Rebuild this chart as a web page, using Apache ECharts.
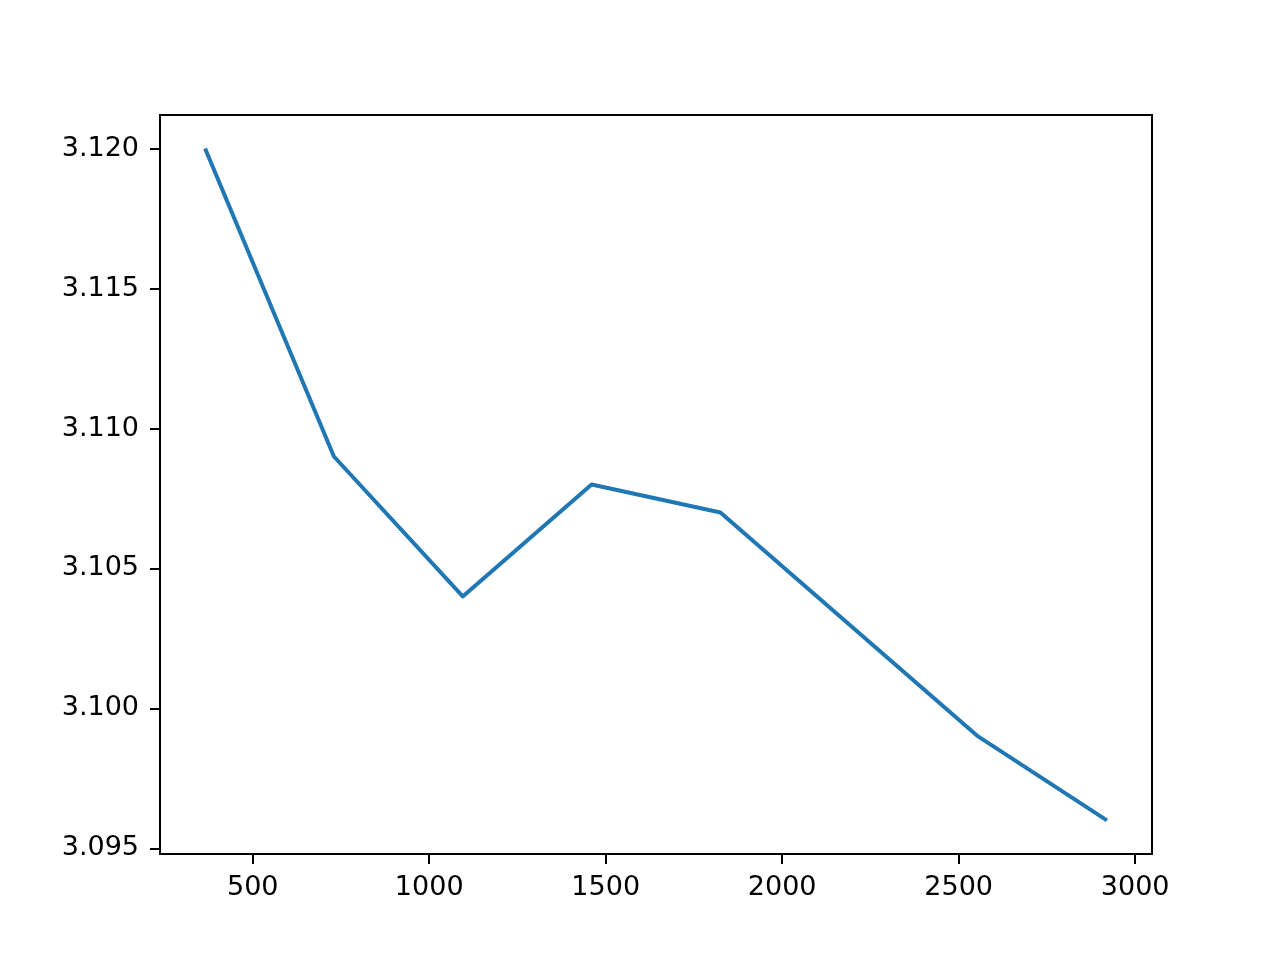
<!DOCTYPE html>
<html>
<head>
<meta charset="utf-8">
<script src="https://cdn.jsdelivr.net/npm/echarts@6/dist/echarts.min.js"></script>
<style>html,body{margin:0;padding:0;background:#fff;}#c{width:1280px;height:960px;}</style>
</head>
<body>
<div id="c"></div>
<script>
const xValues = [365, 730, 1095, 1460, 1825, 2190, 2555, 2920];
const yValues = [3.120, 3.109, 3.104, 3.108, 3.107, 3.103, 3.099, 3.096];
const xTicks = [500, 1000, 1500, 2000, 2500, 3000];
const yTicks = [3.095, 3.100, 3.105, 3.110, 3.115, 3.120];

const chart = echarts.init(document.getElementById('c'), null, {renderer: 'canvas'});
const font = 'DejaVu Sans';
chart.setOption({
  animation: false,
  backgroundColor: '#fff',
  grid: {left: 160, right: 128, top: 115, bottom: 106, show: true, borderColor: '#000', borderWidth: 2, backgroundColor: 'transparent'},
  xAxis: {
    type: 'value', min: 237.25, max: 3047.75,
    axisLine: {show: true, onZero: false, lineStyle: {color: '#000', width: 2}},
    axisTick: {show: true, length: 10, inside: false, customValues: xTicks, lineStyle: {color: '#000', width: 2}},
    axisLabel: {customValues: xTicks, margin: 20, color: '#000', fontFamily: font, fontSize: 27, formatter: v => String(v)},
    splitLine: {show: false}
  },
  yAxis: {
    type: 'value', min: 3.0948, max: 3.1212,
    axisLine: {show: true, onZero: false, lineStyle: {color: '#000', width: 2}},
    axisTick: {show: true, length: 10, inside: false, customValues: yTicks, lineStyle: {color: '#000', width: 2}},
    axisLabel: {customValues: yTicks, margin: 21, color: '#000', fontFamily: font, fontSize: 27, formatter: v => v.toFixed(3)},
    splitLine: {show: false}
  },
  series: [{
    type: 'line',
    data: xValues.map((x, i) => [x, yValues[i]]),
    showSymbol: false,
    symbol: 'none',
    lineStyle: {color: '#1f77b4', width: 4, cap: 'butt', join: 'round'},
    itemStyle: {color: '#1f77b4'}
  }]
});
</script>
</body>
</html>
